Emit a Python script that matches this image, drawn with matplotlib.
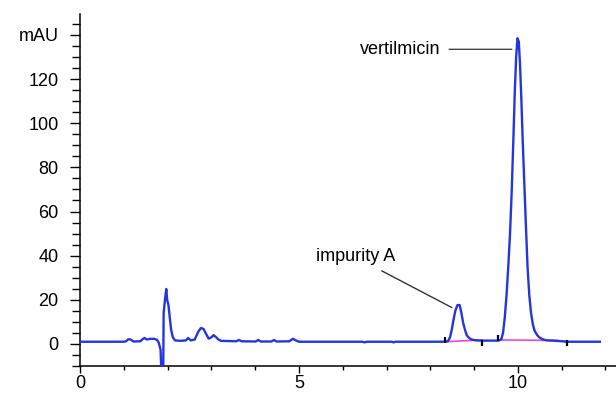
import matplotlib.pyplot as plt
from matplotlib.ticker import MultipleLocator

plt.rcParams['font.family'] = ['Liberation Sans', 'DejaVu Sans']

# chromatogram trace (time in min, signal in mAU)
time_min = [0.0, 1.0, 1.05, 1.1, 1.16, 1.22, 1.38, 1.42, 1.47, 1.53, 1.6, 1.7,
            1.76, 1.8, 1.84, 1.86, 1.9, 1.91, 1.94, 1.97, 1.99, 2.02, 2.05,
            2.08, 2.12, 2.17, 2.3, 2.42, 2.47, 2.53, 2.62, 2.7, 2.76, 2.82,
            2.88, 2.94, 3.0, 3.05, 3.1, 3.16, 3.22, 3.57, 3.63, 3.69, 4.01,
            4.07, 4.13, 4.37, 4.43, 4.49, 4.78, 4.86, 4.94, 5.0, 6.45, 6.5,
            6.55, 7.12, 7.16, 7.2, 8.3, 8.4, 8.45, 8.49, 8.53, 8.57, 8.62,
            8.67, 8.71, 8.75, 8.79, 8.83, 8.88, 8.94, 9.05, 9.2, 9.45, 9.55,
            9.62, 9.66, 9.7, 9.74, 9.78, 9.82, 9.86, 9.9, 9.93, 9.96, 9.99,
            10.02, 10.05, 10.08, 10.11, 10.14, 10.18, 10.22, 10.26, 10.3,
            10.34, 10.38, 10.44, 10.5, 10.58, 10.66, 10.8, 11.0, 11.12, 11.87]
mau = [1.0, 1.0, 1.2, 2.1, 2.0, 1.1, 1.2, 2.0, 2.7, 2.0, 2.3, 2.3,
       1.8, 0.5, -2.7, -14.0, -14.0, 14.0, 20.0, 24.9, 20.0, 17.6, 12.0,
       6.5, 3.0, 1.6, 1.4, 1.6, 2.7, 1.6, 2.0, 5.5, 7.2, 6.8,
       4.5, 2.4, 3.0, 4.0, 3.2, 2.0, 1.4, 1.2, 1.8, 1.2, 1.1,
       1.8, 1.1, 1.1, 1.8, 1.1, 1.2, 2.3, 1.5, 1.0, 1.0, 0.7,
       1.0, 1.0, 0.7, 1.0, 1.0, 1.2, 3.0, 6.5, 11.0, 15.0, 17.6,
       17.6, 14.0, 9.5, 6.5, 4.0, 2.8, 2.0, 1.6, 1.5, 1.5, 1.5,
       2.0, 5.0, 12.0, 22.0, 35.0, 50.0, 70.0, 95.0, 115.0, 130.0, 138.5,
       137.0, 126.0, 110.0, 92.0, 76.0, 55.0, 35.0, 22.0, 14.0,
       9.0, 6.0, 4.0, 2.8, 2.0, 1.6, 1.5, 1.2, 1.0, 1.0]

# integration baselines (magenta) and peak start/end marks
base_imp_t = [8.33, 9.18]
base_imp_v = [1.0, 1.8]
base_ver_t = [9.54, 10.9, 11.12]
base_ver_v = [1.8, 1.6, 1.0]
mark_t = [8.33, 9.18, 9.54, 11.12]
mark_v = [1.6, 0.4, 2.6, 0.5]

fig = plt.figure(figsize=(6.16, 3.93), dpi=100)
ax = fig.add_axes([80 / 616, 27 / 393, 536 / 616, 352 / 393])

ax.plot(base_imp_t, base_imp_v, color='#ee44dd', lw=1.2, zorder=2)
ax.plot(base_ver_t, base_ver_v, color='#ee44dd', lw=1.2, zorder=2)
ax.plot(time_min, mau, color='#2236e0', lw=1.7, zorder=3)
ax.plot(mark_t, mark_v, '|', color='black', ms=5, mew=1.6, zorder=4)

ax.set_xlim(0, 12.24)
ax.set_ylim(-10, 149.5)

ax.xaxis.set_major_locator(MultipleLocator(5))
ax.xaxis.set_minor_locator(MultipleLocator(1))
ax.yaxis.set_major_locator(MultipleLocator(20))
ax.yaxis.set_minor_locator(MultipleLocator(5))
ax.set_yticks([0, 20, 40, 60, 80, 100, 120, 140])
ax.set_yticklabels(['0', '20', '40', '60', '80', '100', '120', 'mAU'])

for s in ['top', 'right']:
    ax.spines[s].set_visible(False)
for s in ['left', 'bottom']:
    ax.spines[s].set_linewidth(1.1)

ax.tick_params(axis='y', which='major', length=7.5, width=1, pad=8, labelsize=13)
ax.tick_params(axis='y', which='minor', length=5.5, width=1)
ax.tick_params(axis='x', which='major', length=5, width=1, pad=1.5, labelsize=13)
ax.tick_params(axis='x', which='minor', length=3, width=1)

ax.annotate('vertilmicin', xy=(9.86, 133.5), xytext=(8.24, 133.5),
            ha='right', va='center', fontsize=13,
            arrowprops=dict(arrowstyle='-', color='#444444', lw=1,
                            shrinkA=4, shrinkB=0))
ax.annotate('impurity A', xy=(8.49, 16.5), xytext=(7.19, 39.4),
            ha='right', va='center', fontsize=13,
            arrowprops=dict(arrowstyle='-', color='#333333', lw=1,
                            shrinkA=4, shrinkB=0))

fig.savefig('out.png', dpi=100)
